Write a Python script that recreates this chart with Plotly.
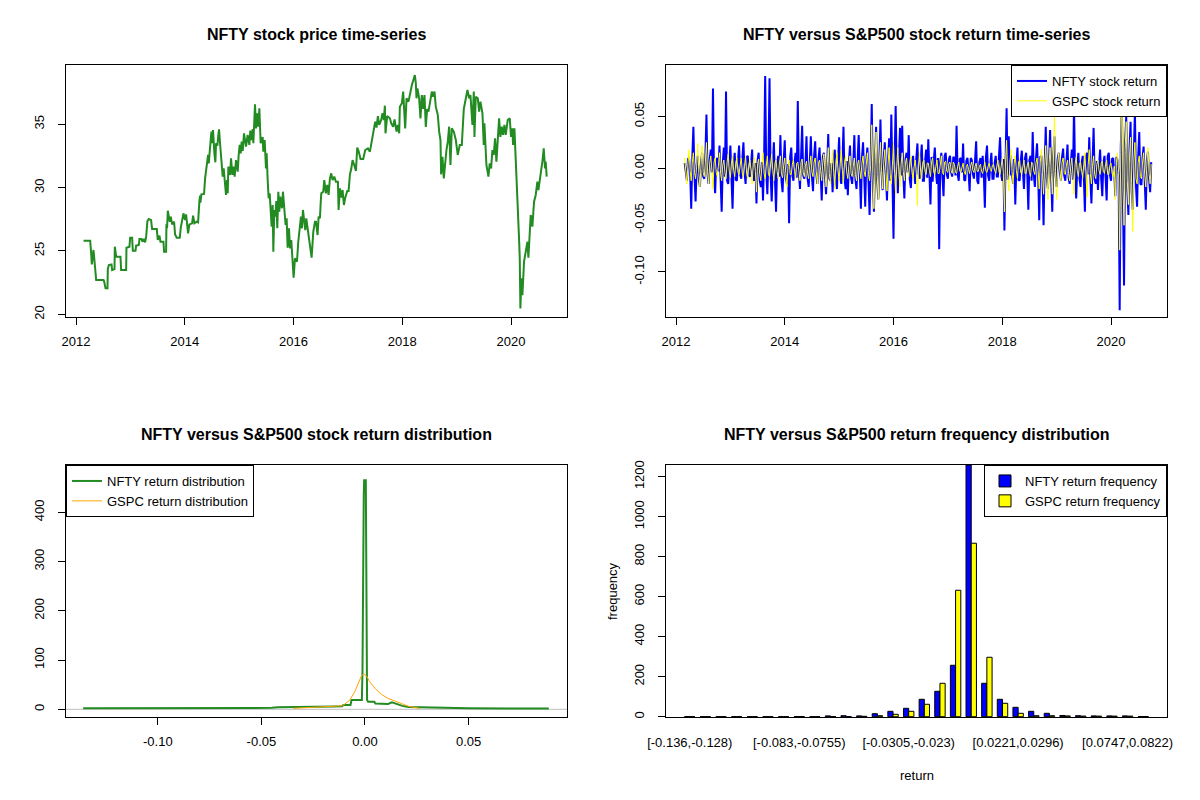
import plotly.graph_objects as go

# ---- data ----
price_year = [
    2012.138, 2012.261, 2012.279, 2012.291, 2012.322, 2012.340, 2012.359, 2012.371, 2012.506, 2012.518,
    2012.543, 2012.579, 2012.585, 2012.604, 2012.653, 2012.665, 2012.708, 2012.714, 2012.739, 2012.818,
    2012.830, 2012.922, 2012.928, 2012.983, 2012.996, 2013.032, 2013.045, 2013.094, 2013.106, 2013.155,
    2013.167, 2013.204, 2013.222, 2013.247, 2013.271, 2013.290, 2013.314, 2013.339, 2013.381, 2013.400,
    2013.486, 2013.504, 2013.535, 2013.553, 2013.608, 2013.620, 2013.657, 2013.663, 2013.675, 2013.688,
    2013.724, 2013.743, 2013.767, 2013.804, 2013.822, 2013.853, 2013.908, 2013.927, 2013.951, 2013.976,
    2014.006, 2014.025, 2014.061, 2014.086, 2014.135, 2014.153, 2014.178, 2014.220, 2014.245, 2014.257,
    2014.269, 2014.282, 2014.288, 2014.306, 2014.355, 2014.374, 2014.404, 2014.429, 2014.441, 2014.453,
    2014.465, 2014.478, 2014.490, 2014.502, 2014.520, 2014.545, 2014.563, 2014.576, 2014.600, 2014.618,
    2014.631, 2014.649, 2014.674, 2014.698, 2014.716, 2014.741, 2014.759, 2014.778, 2014.790, 2014.802,
    2014.833, 2014.851, 2014.876, 2014.900, 2014.918, 2014.943, 2014.974, 2014.992, 2015.010, 2015.029,
    2015.047, 2015.066, 2015.090, 2015.127, 2015.157, 2015.188, 2015.206, 2015.231, 2015.249, 2015.262,
    2015.280, 2015.292, 2015.311, 2015.335, 2015.353, 2015.372, 2015.396, 2015.433, 2015.445, 2015.470,
    2015.494, 2015.506, 2015.525, 2015.543, 2015.562, 2015.580, 2015.598, 2015.617, 2015.629, 2015.647,
    2015.666, 2015.684, 2015.702, 2015.721, 2015.739, 2015.757, 2015.788, 2015.806, 2015.831, 2015.855,
    2015.874, 2015.892, 2015.917, 2015.935, 2015.959, 2015.984, 2016.002, 2016.027, 2016.064, 2016.088,
    2016.113, 2016.137, 2016.155, 2016.174, 2016.198, 2016.217, 2016.235, 2016.296, 2016.333, 2016.364,
    2016.395, 2016.413, 2016.443, 2016.462, 2016.486, 2016.498, 2016.511, 2016.547, 2016.566, 2016.596,
    2016.621, 2016.645, 2016.670, 2016.694, 2016.719, 2016.750, 2016.780, 2016.817, 2016.829, 2016.854,
    2016.878, 2016.903, 2016.927, 2016.952, 2016.989, 2017.013, 2017.038, 2017.062, 2017.086, 2017.117,
    2017.148, 2017.172, 2017.197, 2017.233, 2017.282, 2017.319, 2017.368, 2017.405, 2017.429, 2017.454,
    2017.478, 2017.503, 2017.527, 2017.552, 2017.576, 2017.613, 2017.637, 2017.662, 2017.680, 2017.692,
    2017.723, 2017.772, 2017.797, 2017.833, 2017.858, 2017.895, 2017.919, 2017.944, 2017.956, 2017.993,
    2018.017, 2018.030, 2018.054, 2018.079, 2018.115, 2018.177, 2018.201, 2018.232, 2018.250, 2018.262,
    2018.280, 2018.311, 2018.335, 2018.360, 2018.384, 2018.409, 2018.433, 2018.458, 2018.482, 2018.507,
    2018.544, 2018.568, 2018.593, 2018.617, 2018.654, 2018.679, 2018.703, 2018.715, 2018.740, 2018.764,
    2018.789, 2018.813, 2018.838, 2018.862, 2018.887, 2018.911, 2018.948, 2018.985, 2019.021, 2019.058,
    2019.095, 2019.107, 2019.132, 2019.199, 2019.230, 2019.254, 2019.267, 2019.291, 2019.316, 2019.328,
    2019.352, 2019.389, 2019.414, 2019.438, 2019.475, 2019.499, 2019.511, 2019.548, 2019.585, 2019.609,
    2019.634, 2019.658, 2019.683, 2019.707, 2019.732, 2019.756, 2019.781, 2019.805, 2019.830, 2019.854,
    2019.879, 2019.903, 2019.940, 2019.977, 2020.001, 2020.026, 2020.038, 2020.063, 2020.087, 2020.112,
    2020.130, 2020.148, 2020.161, 2020.173, 2020.191, 2020.210, 2020.240, 2020.271, 2020.302, 2020.320,
    2020.344, 2020.363, 2020.393, 2020.424, 2020.455, 2020.485, 2020.504, 2020.547, 2020.577, 2020.602,
    2020.626, 2020.638, 2020.657,
]
price_value = [
    25.81, 25.81, 24.81, 23.94, 25.08, 23.94, 23.42, 22.71, 22.71, 22.58,
    22.05, 22.05, 23.58, 23.89, 23.94, 23.50, 23.58, 25.34, 24.55, 24.55,
    23.50, 23.50, 25.26, 25.34, 26.05, 26.05, 25.02, 25.02, 25.42, 25.47,
    25.95, 25.95, 25.73, 25.95, 25.68, 26.13, 27.37, 27.52, 27.44, 26.73,
    26.73, 25.87, 26.21, 25.73, 25.73, 24.94, 24.94, 27.10, 26.79, 28.18,
    27.31, 27.71, 27.10, 27.31, 26.31, 26.05, 26.05, 26.84, 27.37, 27.97,
    27.44, 27.89, 26.39, 27.10, 27.18, 27.79, 27.18, 27.31, 27.26, 28.89,
    28.89, 29.37, 28.81, 29.47, 29.50, 30.73, 31.66, 32.58, 31.92, 32.63,
    33.58, 34.16, 34.42, 33.50, 34.55, 32.71, 32.00, 33.50, 33.31, 34.16,
    34.60, 33.50, 31.79, 30.87, 31.52, 29.81, 29.42, 30.60, 29.55, 31.66,
    31.00, 32.31, 31.00, 31.66, 30.87, 32.18, 31.26, 32.58, 33.37, 32.71,
    33.63, 32.89, 34.29, 33.24, 34.16, 33.37, 34.50, 33.76, 34.63, 33.50,
    35.47, 36.58, 34.68, 35.87, 34.81, 36.26, 33.50, 34.00, 32.84, 33.76,
    31.52, 32.71, 30.60, 29.16, 29.55, 27.58, 26.92, 28.63, 24.94, 28.24,
    27.71, 28.94, 26.79, 29.68, 28.10, 29.29, 28.37, 29.68, 28.50, 27.05,
    27.58, 25.26, 26.79, 25.21, 25.87, 24.29, 22.89, 24.42, 24.16, 25.73,
    26.58, 27.71, 26.79, 28.24, 27.31, 26.65, 27.58, 25.34, 24.47, 26.52,
    27.31, 27.31, 26.26, 27.71, 27.58, 28.63, 29.55, 29.68, 30.60, 29.55,
    30.21, 29.42, 30.73, 31.13, 30.60, 30.87, 30.47, 30.47, 28.24, 29.95,
    29.21, 29.81, 28.63, 29.21, 29.73, 29.73, 31.05, 31.47, 32.18, 31.79,
    31.31, 33.16, 32.89, 32.26, 32.26, 32.97, 33.10, 32.84, 33.42, 34.16,
    34.55, 35.21, 34.74, 35.65, 34.95, 35.34, 35.87, 35.34, 36.47, 34.29,
    35.65, 35.47, 35.08, 34.81, 35.39, 34.42, 34.95, 34.29, 36.39, 36.66,
    37.58, 36.52, 34.68, 37.05, 36.79, 38.10, 38.50, 38.89, 38.23, 37.05,
    37.84, 37.05, 35.47, 37.31, 36.21, 37.31, 34.79, 36.21, 36.00, 36.52,
    37.58, 37.18, 37.58, 36.39, 35.73, 34.42, 33.76, 31.05, 32.44, 30.73,
    32.05, 32.97, 33.63, 34.81, 31.79, 34.68, 34.42, 33.76, 32.58, 33.37,
    33.37, 34.68, 36.21, 37.71, 37.05, 37.31, 36.39, 34.95, 37.58, 34.00,
    37.18, 37.05, 36.00, 36.79, 35.87, 33.37, 35.08, 31.79, 30.87, 31.92,
    31.52, 32.97, 32.58, 33.89, 32.05, 34.29, 35.47, 34.00, 34.81, 34.16,
    34.95, 34.16, 35.34, 35.47, 34.00, 34.68, 33.37, 34.68, 32.44, 30.60,
    28.24, 26.00, 24.42, 20.47, 22.84, 21.52, 24.16, 24.94, 25.73, 24.47,
    26.26, 27.84, 26.92, 28.89, 29.42, 30.47, 29.81, 31.00, 32.05, 33.10,
    31.52, 32.05, 30.87,
]

# returns sampled every 0.02 year from 2012.16 (one row = one year)
ret_start = 2012.16
ret_step = 0.02
nfty_ret = [
    0.005, -0.006, -0.012, 0.009, 0.010, -0.004, -0.039, 0.011, 0.040, -0.007, -0.032, 0.003, 0.012,
    -0.010, -0.018, 0.005, 0.015, -0.008, -0.010, 0.012, 0.052, -0.006, -0.015, 0.009, 0.018, -0.004,
    0.077, -0.011, -0.024, 0.007, 0.010, -0.003, 0.022, -0.010, -0.042, 0.005, 0.020, -0.008, 0.074,
    -0.012, -0.015, 0.006, 0.022, -0.009, -0.039, 0.004, 0.015, -0.011, -0.012, 0.007,
    0.022, -0.006, -0.010, 0.009, 0.025, -0.004, -0.015, 0.011, 0.012, -0.007, -0.008, 0.003, 0.018,
    -0.010, -0.012, 0.005, -0.034, 0.008, 0.015, -0.012, -0.018, 0.006, -0.031, 0.009, 0.089, -0.004,
    -0.025, 0.011, 0.087, -0.007, -0.032, 0.003, 0.025, -0.010, -0.042, 0.005, 0.012, -0.008, 0.032,
    -0.012, -0.023, 0.006, 0.027, -0.009, -0.015, 0.004, -0.053, 0.011, 0.020, -0.007,
    -0.012, 0.006, 0.015, -0.009, 0.065, -0.004, -0.020, 0.011, 0.041, -0.007, -0.010, 0.003, 0.031,
    -0.010, -0.018, 0.005, 0.031, -0.008, -0.022, 0.012, 0.026, -0.006, -0.015, 0.009, 0.020, -0.004,
    -0.031, 0.011, 0.015, -0.007, -0.025, 0.003, 0.033, -0.010, -0.012, 0.005, -0.023, 0.008, 0.018,
    -0.012, -0.020, 0.006, 0.030, -0.009, -0.015, 0.004, 0.040, -0.011, -0.020, 0.007,
    -0.026, 0.006, 0.022, -0.009, -0.015, 0.004, 0.032, -0.011, -0.020, 0.007, 0.032, -0.003, -0.039,
    0.010, 0.025, -0.005, -0.037, 0.008, 0.020, -0.012, -0.045, 0.006, 0.062, -0.009, -0.042, 0.004,
    0.040, -0.011, -0.030, 0.007, 0.047, -0.003, -0.021, 0.010, 0.025, -0.005, -0.031, 0.008, 0.029,
    -0.012, 0.052, -0.006, -0.068, 0.009, 0.060, -0.004, -0.024, 0.011, 0.039, -0.007,
    0.041, -0.006, -0.029, 0.009, 0.015, -0.004, 0.032, -0.011, -0.019, 0.007, 0.012, -0.003, -0.015,
    0.010, 0.024, -0.005, -0.010, 0.008, 0.023, -0.012, -0.012, 0.006, 0.018, -0.009, 0.028, -0.004,
    -0.035, 0.011, -0.013, 0.007, 0.020, -0.003, -0.015, 0.010, -0.078, 0.005, 0.015, -0.008, -0.027,
    0.012, 0.015, -0.006, -0.010, 0.009, 0.012, -0.004, -0.008, 0.011, 0.010, -0.007,
    0.041, -0.006, -0.012, 0.009, 0.010, -0.004, 0.024, -0.011, -0.012, 0.007, 0.010, -0.003, -0.022,
    0.010, 0.008, -0.005, -0.010, 0.008, 0.026, -0.012, -0.015, 0.006, 0.010, -0.009, 0.012, -0.004,
    -0.038, 0.011, 0.022, -0.007, -0.012, 0.003, 0.015, -0.010, -0.010, 0.005, 0.012, -0.008, -0.008,
    0.012, 0.030, -0.006, -0.012, 0.009, -0.060, 0.004, 0.058, -0.011, 0.031, -0.007,
    0.012, -0.006, -0.015, 0.009, -0.035, 0.004, 0.020, -0.011, -0.012, 0.007, 0.017, -0.003, -0.020,
    0.010, 0.015, -0.005, -0.040, 0.008, 0.012, -0.012, 0.035, -0.006, -0.018, 0.009, 0.024, -0.004,
    -0.050, 0.011, 0.012, -0.007, -0.055, 0.003, 0.040, -0.010, -0.020, 0.005, 0.037, -0.008, -0.042,
    0.012, 0.031, -0.006, -0.018, 0.009, 0.015, -0.004, -0.012, 0.011, 0.019, -0.007,
    -0.012, 0.006, 0.023, -0.009, -0.015, 0.004, 0.018, -0.011, 0.060, -0.007, -0.029, 0.003, 0.015,
    -0.010, -0.018, 0.005, 0.012, -0.008, -0.042, 0.012, 0.015, -0.006, 0.030, -0.009, -0.034, 0.004,
    0.039, -0.011, -0.015, 0.007, -0.021, 0.003, 0.018, -0.010, -0.027, 0.005, 0.012, -0.008, -0.031,
    0.012, 0.015, -0.006, -0.012, 0.009, 0.010, -0.004, -0.027, 0.011, 0.008, -0.007,
    -0.137, 0.020, 0.062, -0.030, -0.113, 0.025, 0.050, -0.020, -0.045, 0.018, 0.045, -0.022, -0.040,
    0.015, 0.055, -0.018, -0.037, 0.012, 0.035, -0.015, -0.016, 0.010, 0.021, -0.012, -0.040, 0.008,
    0.016, -0.010, -0.023, 0.006,
]
gspc_ret = [
    0.010, -0.003, -0.015, 0.005, 0.018, -0.002, -0.012, 0.006, 0.015, -0.004, -0.010, 0.002, 0.024,
    -0.005, -0.018, 0.003, 0.022, -0.004, -0.008, 0.006, 0.025, -0.003, -0.015, 0.005, 0.012, -0.002,
    -0.020, 0.006, 0.010, -0.004, -0.008, 0.002, 0.015, -0.005, -0.012, 0.003, 0.008, -0.004, -0.010,
    0.006, 0.014, -0.003, -0.009, 0.005, 0.012, -0.002, -0.008, 0.006, 0.010, -0.004,
    -0.006, 0.003, 0.010, -0.005, -0.008, 0.002, 0.012, -0.006, -0.010, 0.004, 0.008, -0.002, -0.015,
    0.005, 0.011, -0.003, -0.023, 0.004, 0.009, -0.006, -0.012, 0.003, 0.015, -0.005, -0.010, 0.002,
    0.012, -0.006, -0.008, 0.004, 0.014, -0.002, -0.012, 0.005, 0.008, -0.003, -0.010, 0.004, 0.012,
    -0.006, -0.009, 0.003, 0.010, -0.005, -0.018, 0.002, 0.008, -0.006, -0.006, 0.004,
    0.008, -0.003, -0.010, 0.005, 0.006, -0.002, -0.012, 0.006, 0.009, -0.004, -0.008, 0.002, 0.007,
    -0.005, -0.010, 0.003, 0.012, -0.004, -0.008, 0.006, 0.010, -0.003, -0.015, 0.005, 0.008, -0.002,
    -0.012, 0.006, 0.014, -0.004, -0.018, 0.002, 0.020, -0.005, -0.015, 0.003, 0.018, -0.004, -0.020,
    0.006, 0.015, -0.003, -0.012, 0.005, 0.018, -0.002, -0.014, 0.006, 0.012, -0.004,
    -0.010, 0.003, 0.012, -0.005, -0.008, 0.002, 0.010, -0.006, -0.012, 0.004, 0.008, -0.002, -0.010,
    0.005, 0.012, -0.003, -0.008, 0.004, 0.015, -0.006, -0.012, 0.003, 0.042, -0.005, -0.039, 0.002,
    0.035, -0.006, -0.030, 0.004, 0.025, -0.002, -0.020, 0.005, 0.018, -0.003, -0.022, 0.004, 0.020,
    -0.006, -0.015, 0.003, 0.024, -0.005, -0.025, 0.002, 0.020, -0.006, -0.018, 0.004,
    0.015, -0.003, -0.012, 0.005, 0.010, -0.002, -0.008, 0.006, 0.012, -0.004, -0.010, 0.002, 0.008,
    -0.005, -0.036, 0.003, 0.015, -0.004, -0.010, 0.006, 0.008, -0.003, -0.006, 0.005, 0.005, -0.002,
    -0.008, 0.006, 0.010, -0.004, -0.006, 0.002, 0.008, -0.005, -0.005, 0.003, 0.012, -0.004, -0.006,
    0.006, 0.007, -0.003, -0.004, 0.005, 0.006, -0.002, -0.005, 0.006, 0.004, -0.004,
    -0.005, 0.002, 0.006, -0.003, -0.004, 0.001, 0.005, -0.003, -0.006, 0.002, 0.004, -0.001, -0.005,
    0.003, 0.006, -0.002, -0.004, 0.002, 0.005, -0.003, -0.003, 0.002, 0.004, -0.003, -0.005, 0.001,
    0.006, -0.003, -0.004, 0.002, 0.005, -0.001, -0.003, 0.003, 0.004, -0.002, -0.005, 0.002, 0.008,
    -0.003, -0.006, 0.002, 0.010, -0.004, -0.042, 0.006, 0.027, -0.008, -0.022, 0.005,
    0.018, -0.003, -0.015, 0.005, 0.012, -0.002, -0.010, 0.006, 0.008, -0.004, -0.006, 0.002, 0.008,
    -0.005, -0.005, 0.003, 0.006, -0.004, -0.008, 0.006, 0.005, -0.003, -0.006, 0.005, 0.010, -0.002,
    -0.020, 0.006, 0.018, -0.004, -0.025, 0.002, 0.022, -0.005, -0.030, 0.003, 0.020, -0.004, -0.025,
    0.006, 0.050, -0.003, -0.030, 0.005, 0.015, -0.002, -0.012, 0.006, 0.010, -0.004,
    -0.006, 0.003, 0.008, -0.005, -0.012, 0.002, 0.010, -0.006, -0.025, 0.004, 0.011, -0.002, -0.008,
    0.005, 0.006, -0.003, -0.009, 0.004, 0.015, -0.006, -0.028, 0.003, 0.018, -0.005, -0.015, 0.002,
    0.012, -0.006, -0.010, 0.004, 0.008, -0.002, -0.006, 0.005, 0.007, -0.003, -0.005, 0.004, 0.008,
    -0.006, -0.006, 0.003, 0.005, -0.005, -0.008, 0.002, -0.030, 0.006, 0.015, -0.004,
    -0.079, 0.015, 0.090, -0.020, -0.055, 0.018, 0.045, -0.012, -0.035, 0.010, 0.030, -0.015, -0.061,
    0.008, 0.025, -0.010, -0.015, 0.006, 0.012, -0.008, -0.010, 0.005, 0.015, -0.006, -0.018, 0.004,
    0.020, -0.005, -0.015, 0.004,
]

nfty_dens_x = [-0.136, -0.05, -0.045, -0.042, -0.021, -0.015, -0.011, -0.0105, -0.007, -0.0065,
               -0.0015, -0.0012, -0.0006, -0.0004, 0.0004, 0.0006, 0.0010, 0.0015, 0.0045, 0.005,
               0.0065, 0.007, 0.0112, 0.013, 0.015, 0.018, 0.021, 0.026, 0.034, 0.043, 0.05, 0.0887]
nfty_dens_y = [2.0, 2.0, 3.0, 4.0, 4.0, 5.5, 6.0, 8.8, 8.8, 19.0,
               19.0, 80.0, 431.0, 465.0, 465.0, 154.0, 19.0, 15.5, 15.5, 12.0,
               12.0, 10.8, 10.8, 14.0, 11.0, 7.0, 4.7, 4.0, 3.4, 2.7, 2.0, 1.5]
gspc_dens_x = [-0.0347, -0.021, -0.0113, -0.0097, -0.0073, -0.0049, -0.0030, -0.0017, -0.0006,
               0.0007, 0.0023, 0.0047, 0.0080, 0.0112, 0.0144, 0.0176, 0.021, 0.0264]
gspc_dens_y = [2.0, 5.4, 7.0, 10.8, 19.0, 36.0, 53.0, 68.0, 72.0,
               68.0, 56.0, 43.0, 30.0, 22.0, 17.0, 12.0, 6.0, 2.0]

bins = [
    "[-0.136,-0.128)", "[-0.128,-0.121)", "[-0.121,-0.113)", "[-0.113,-0.106)", "[-0.106,-0.098)",
    "[-0.098,-0.0905)", "[-0.0905,-0.083)", "[-0.083,-0.0755)", "[-0.0755,-0.068)", "[-0.068,-0.0604)",
    "[-0.0604,-0.0529)", "[-0.0529,-0.0454)", "[-0.0454,-0.0379)", "[-0.0379,-0.0305)", "[-0.0305,-0.023)",
    "[-0.023,-0.0154)", "[-0.0154,-0.00791)", "[-0.00791,-0.000385)", "[-0.000385,0.00714)", "[0.00714,0.0147)",
    "[0.0147,0.0221)", "[0.0221,0.0296)", "[0.0296,0.0372)", "[0.0372,0.0447)", "[0.0447,0.0522)",
    "[0.0522,0.0597)", "[0.0597,0.0672)", "[0.0672,0.0747)", "[0.0747,0.0822)", "[0.0822,0.0898]",
]
nfty_freq = [1, 0, 0, 0, 0, 0, 0, 1, 0, 4, 5, 4, 15, 27, 42, 87, 127, 257, 1258, 167,
             87, 47, 27, 17, 6, 5, 4, 4, 4, 1]
gspc_freq = [0, 0, 0, 0, 0, 0, 0, 1, 0, 1, 1, 2, 5, 12, 27, 62, 167, 632, 867, 297,
             67, 17, 5, 5, 4, 3, 3, 3, 3, 1]

year_ticks = [2012, 2014, 2016, 2018, 2020]
price_ticks = [20, 25, 30, 35]
ret_ticks = [-0.10, -0.05, 0.0, 0.05]
ret_tick_text = ["-0.10", "-0.05", "0.00", "0.05"]
dens_x_ticks = [-0.10, -0.05, 0.0, 0.05]
dens_y_ticks = [0, 100, 200, 300, 400]
freq_ticks = [0, 200, 400, 600, 800, 1000, 1200]
bin_labels_shown = [bins[0], bins[7], bins[14], bins[21], bins[28]]

ret_year = [ret_start + ret_step * i for i in range(len(nfty_ret))]

# the page body has an 8px margin, so the figure is a bit smaller than the window
PAGE = 8
W, H = 1200 - 2 * PAGE, 800 - 2 * PAGE
FONT = "Liberation Sans, Arial, sans-serif"


def px_x(p):
    return (p - PAGE) / W


def px_y(p):
    return 1 - (p - PAGE) / H


def r_axis(domain, rng, **kw):
    d = dict(
        domain=domain, range=rng, showline=True, mirror=True, linecolor="black", linewidth=1,
        ticks="outside", ticklen=7, tickwidth=1, tickcolor="black", showgrid=False, zeroline=False,
        automargin=False, fixedrange=True,
        tickfont=dict(family=FONT, size=13, color="black"),
    )
    d.update(kw)
    return d


fig = go.Figure()

# top-left: price
fig.add_trace(go.Scatter(x=price_year, y=price_value, mode="lines",
                         line=dict(color="#228B22", width=2), showlegend=False,
                         xaxis="x", yaxis="y"))

# top-right: returns
fig.add_trace(go.Scatter(x=ret_year, y=nfty_ret, mode="lines", name="NFTY stock return",
                         line=dict(color="#0000FF", width=2),
                         xaxis="x2", yaxis="y2", legend="legend"))
fig.add_trace(go.Scatter(x=ret_year, y=gspc_ret, mode="lines", name="GSPC stock return",
                         line=dict(color="#FFFF00", width=1),
                         xaxis="x2", yaxis="y2", legend="legend"))

# bottom-left: densities
fig.add_trace(go.Scatter(x=nfty_dens_x, y=nfty_dens_y, mode="lines", name="NFTY return distribution",
                         line=dict(color="#228B22", width=2), xaxis="x3", yaxis="y3", legend="legend2"))
fig.add_trace(go.Scatter(x=gspc_dens_x, y=gspc_dens_y, mode="lines", name="GSPC return distribution",
                         line=dict(color="#FFA500", width=1), xaxis="x3", yaxis="y3", legend="legend2"))

# bottom-right: frequency bars
fig.add_trace(go.Bar(x=bins, y=nfty_freq, name="NFTY return frequency",
                     marker=dict(color="#0000FF", line=dict(color="black", width=1)),
                     xaxis="x4", yaxis="y4", legend="legend3"))
fig.add_trace(go.Bar(x=bins, y=gspc_freq, name="GSPC return frequency",
                     marker=dict(color="#FFFF00", line=dict(color="black", width=1)),
                     xaxis="x4", yaxis="y4", legend="legend3"))

left = [px_x(66), px_x(567)]
right = [px_x(666), px_x(1167)]
top = [px_y(317), px_y(65)]
bottom = [px_y(717), px_y(465)]

legend_common = dict(bgcolor="white", bordercolor="black", borderwidth=1,
                     font=dict(family=FONT, size=13, color="black"), itemwidth=30,
                     tracegroupgap=0)

fig.update_layout(
    width=W, height=H, autosize=False,
    margin=dict(l=0, r=0, t=0, b=0),
    paper_bgcolor="white", plot_bgcolor="white",
    font=dict(family=FONT, size=13, color="black"),
    barmode="group", bargap=1 / 3, bargroupgap=0,
    xaxis=r_axis(left, [2011.816, 2021.03], anchor="y", tickvals=year_ticks,
                 ticktext=[str(v) for v in year_ticks], ticklabelstandoff=5),
    yaxis=r_axis(top, [19.79, 39.68], anchor="x", tickvals=price_ticks,
                 ticktext=[str(v) for v in price_ticks], tickangle=-90, ticklabelstandoff=9),
    xaxis2=r_axis(right, [2011.816, 2021.03], anchor="y2", tickvals=year_ticks,
                  ticktext=[str(v) for v in year_ticks], ticklabelstandoff=5),
    yaxis2=r_axis(top, [-0.1435, 0.0997], anchor="x2", tickvals=ret_ticks,
                  ticktext=ret_tick_text, tickangle=-90, ticklabelstandoff=9),
    xaxis3=r_axis(left, [-0.1443, 0.0975], anchor="y3", tickvals=dens_x_ticks,
                  ticktext=ret_tick_text, ticklabelstandoff=5),
    yaxis3=r_axis(bottom, [-15.6, 496], anchor="x3", tickvals=dens_y_ticks,
                  ticktext=[str(v) for v in dens_y_ticks], tickangle=-90, ticklabelstandoff=9),
    xaxis4=r_axis(right, [-1.52, 30.52], anchor="y4", type="category", ticks="",
                  tickvals=bin_labels_shown, ticktext=bin_labels_shown, tickangle=0,
                  ticklabelstandoff=13),
    yaxis4=r_axis(bottom, [-1.5, 1258], anchor="x4", tickvals=freq_ticks,
                  ticktext=[str(v) for v in freq_ticks], tickangle=-90, ticklabelstandoff=9),
    legend=dict(legend_common, x=px_x(1167), y=px_y(65), xanchor="right", yanchor="top"),
    legend2=dict(legend_common, x=px_x(66), y=px_y(465), xanchor="left", yanchor="top"),
    legend3=dict(legend_common, x=px_x(1167), y=px_y(465), xanchor="right", yanchor="top"),
    shapes=[dict(type="line", xref="x3 domain", yref="y3", x0=0, x1=1, y0=0, y1=0,
                 line=dict(color="#BEBEBE", width=1), layer="below")],
)

titles = [
    ("NFTY stock price time-series", 316.5, 35),
    ("NFTY versus S&amp;P500 stock return time-series", 916.5, 35),
    ("NFTY versus S&amp;P500 stock return distribution", 316.5, 435),
    ("NFTY versus S&amp;P500 return frequency distribution", 916.5, 435),
]
for text, x, y in titles:
    fig.add_annotation(text="<b>%s</b>" % text, xref="paper", yref="paper", x=px_x(x), y=px_y(y),
                       showarrow=False, xanchor="center", yanchor="middle",
                       font=dict(family=FONT, size=16, color="black"))

fig.add_annotation(text="return", xref="paper", yref="paper", x=px_x(916.5), y=px_y(775),
                   showarrow=False, xanchor="center", yanchor="middle",
                   font=dict(family=FONT, size=13, color="black"))
fig.add_annotation(text="frequency", xref="paper", yref="paper", x=px_x(612), y=px_y(591),
                   showarrow=False, xanchor="center", yanchor="middle", textangle=-90,
                   font=dict(family=FONT, size=13, color="black"))

fig.write_html("out.html")
